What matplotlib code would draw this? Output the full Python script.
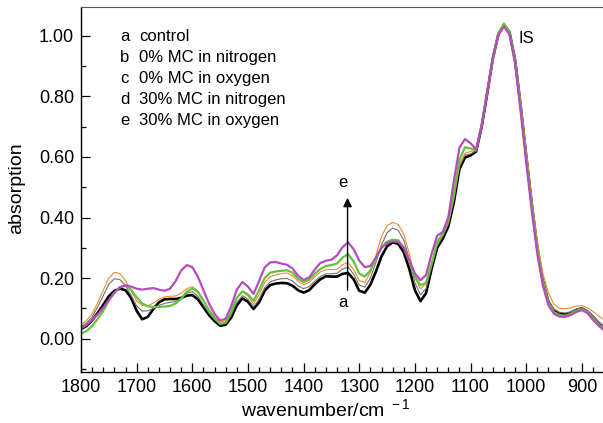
import matplotlib
matplotlib.use("Agg")
import matplotlib.pyplot as plt
from matplotlib.ticker import MultipleLocator, FormatStrFormatter

plt.rcParams['font.family'] = ['Liberation Sans', 'DejaVu Sans']
plt.rcParams['mathtext.fontset'] = 'custom'
plt.rcParams['mathtext.rm'] = 'Liberation Sans'

# wavenumber grid, 1800 -> 860 cm-1 in steps of 10
wavenumber = list(range(1800, 859, -10))

# a control
control = [
    .032, .042, .060, .085, .112, .140, .158, .165, .160, .135,
    .092, .064, .072, .098, .120, .130, .131, .131, .135, .142,
    .144, .130, .104, .078, .058, .043, .046, .070, .110, .133,
    .122, .098, .120, .158, .177, .182, .184, .183, .175, .160,
    .152, .160, .180, .196, .206, .205, .205, .214, .217, .196,
    .158, .152, .178, .222, .272, .305, .318, .313, .285, .230,
    .160, .124, .150, .230, .300, .330, .370, .450, .560, .598,
    .605, .618, .700, .810, .925, 1.005, 1.036, 1.012, .920, .770,
    .605, .445, .300, .190, .120, .092, .082, .080, .085, .095,
    .100, .090, .072, .052, .036]

# b 0% MC in nitrogen
mc0_n2 = [
    .040, .052, .072, .105, .142, .180, .198, .195, .175, .143,
    .108, .091, .092, .100, .110, .116, .120, .122, .133, .150,
    .155, .140, .112, .084, .063, .047, .050, .078, .120, .142,
    .130, .105, .130, .168, .188, .194, .198, .199, .190, .174,
    .165, .172, .190, .205, .214, .214, .216, .230, .236, .213,
    .177, .170, .200, .252, .310, .350, .365, .358, .325, .262,
    .185, .145, .165, .240, .305, .338, .378, .458, .566, .606,
    .610, .620, .702, .810, .922, 1.003, 1.034, 1.010, .922, .775,
    .612, .452, .308, .198, .128, .098, .087, .085, .089, .098,
    .102, .093, .076, .056, .040]

# c 0% MC in oxygen
mc0_o2 = [
    .046, .060, .082, .118, .160, .200, .219, .215, .192, .158,
    .124, .110, .108, .118, .130, .138, .140, .141, .150, .165,
    .172, .158, .128, .096, .072, .055, .060, .090, .135, .155,
    .141, .114, .145, .185, .205, .210, .215, .217, .208, .190,
    .178, .185, .205, .220, .228, .228, .229, .245, .251, .228,
    .192, .186, .218, .275, .338, .373, .384, .377, .345, .280,
    .202, .164, .182, .250, .312, .342, .382, .465, .575, .612,
    .618, .622, .705, .812, .918, 1.000, 1.030, 1.006, .925, .785,
    .622, .462, .320, .215, .150, .113, .100, .099, .102, .108,
    .109, .102, .090, .075, .062]

# d 30% MC in nitrogen
mc30_n2 = [
    .017, .025, .042, .065, .092, .125, .152, .170, .176, .162,
    .137, .116, .107, .105, .105, .106, .108, .116, .132, .155,
    .166, .154, .126, .094, .068, .049, .053, .088, .135, .156,
    .146, .125, .160, .200, .218, .222, .224, .226, .218, .198,
    .187, .195, .214, .230, .240, .243, .248, .268, .279, .255,
    .215, .205, .225, .265, .302, .320, .327, .325, .302, .255,
    .205, .176, .185, .245, .320, .345, .390, .480, .590, .632,
    .628, .622, .705, .815, .928, 1.008, 1.040, 1.014, .920, .765,
    .598, .438, .290, .185, .118, .088, .078, .076, .082, .092,
    .097, .088, .068, .048, .032]

# e 30% MC in oxygen
mc30_o2 = [
    .035, .045, .062, .080, .102, .128, .152, .170, .176, .172,
    .165, .162, .165, .167, .162, .158, .165, .190, .225, .243,
    .236, .205, .160, .116, .082, .060, .066, .108, .162, .187,
    .172, .148, .190, .235, .252, .253, .248, .244, .232, .208,
    .194, .202, .228, .250, .257, .261, .275, .302, .318, .295,
    .258, .236, .240, .268, .300, .316, .321, .320, .300, .258,
    .215, .193, .210, .280, .340, .352, .400, .520, .630, .659,
    .645, .625, .705, .815, .925, 1.003, 1.030, 1.004, .910, .750,
    .583, .423, .280, .175, .110, .082, .073, .072, .078, .088,
    .094, .085, .062, .043, .028]

letters = ['a', 'b', 'c', 'd', 'e']
names = ['control', '0% MC in nitrogen', '0% MC in oxygen',
         '30% MC in nitrogen', '30% MC in oxygen']
series = [control, mc0_n2, mc0_o2, mc30_n2, mc30_o2]
colors = ['black', '#707070', '#f28a2e', '#64c23c', '#b64bbd']
widths = [1.9, 0.8, 0.8, 1.6, 1.6]

fig = plt.figure(figsize=(6.03, 4.23), dpi=100)
ax = fig.add_axes([81 / 603, 51 / 423, 522 / 603, 365 / 423])

for vals, c, lw in zip(series, colors, widths):
    ax.plot(wavenumber, vals, color=c, lw=lw,
            solid_capstyle='round', solid_joinstyle='round')

ax.set_xlim(1800, 862)
ax.set_ylim(-0.11, 1.095)

ax.xaxis.set_major_locator(MultipleLocator(100))
ax.xaxis.set_minor_locator(MultipleLocator(20))
ax.yaxis.set_major_locator(MultipleLocator(0.2))
ax.yaxis.set_minor_locator(MultipleLocator(0.1))
ax.yaxis.set_major_formatter(FormatStrFormatter('%.2f'))
ax.tick_params(which='both', direction='in', labelsize=13, width=0.9)
ax.tick_params(which='major', length=6.5)
ax.tick_params(which='minor', length=3.5)
ax.tick_params(axis='x', pad=5)
ax.tick_params(axis='y', pad=5)

ax.spines['right'].set_visible(False)
ax.spines['top'].set_color('#555555')
for s in ['left', 'bottom']:
    ax.spines[s].set_linewidth(1.0)

# labels
fig.text(17 / 603, 1 - 188 / 423, 'absorption', rotation=90,
         ha='center', va='center', fontsize=14)
fig.text(326 / 603, 1 - 410 / 423, 'wavenumber/cm$^{\\ -1}$',
         ha='center', va='center', fontsize=14)

# key text
for i, (l, n) in enumerate(zip(letters, names)):
    y = 1 - (36.5 + i * 21) / 423
    fig.text(120 / 603, y, l, ha='left', va='center', fontsize=12)
    fig.text(139 / 603, y, n, ha='left', va='center', fontsize=12)

# arrow a -> e
ax.annotate('', xy=(1321, 0.465), xytext=(1321, 0.16),
            arrowprops=dict(arrowstyle='-|>', color='black', lw=1.0,
                            mutation_scale=13, shrinkA=0, shrinkB=0))
ax.text(1329, 0.515, 'e', ha='center', va='center', fontsize=12)
ax.text(1329, 0.118, 'a', ha='center', va='center', fontsize=12)
ax.text(1013, 0.99, 'IS', ha='left', va='center', fontsize=12)

fig.savefig('out.png', dpi=100)
